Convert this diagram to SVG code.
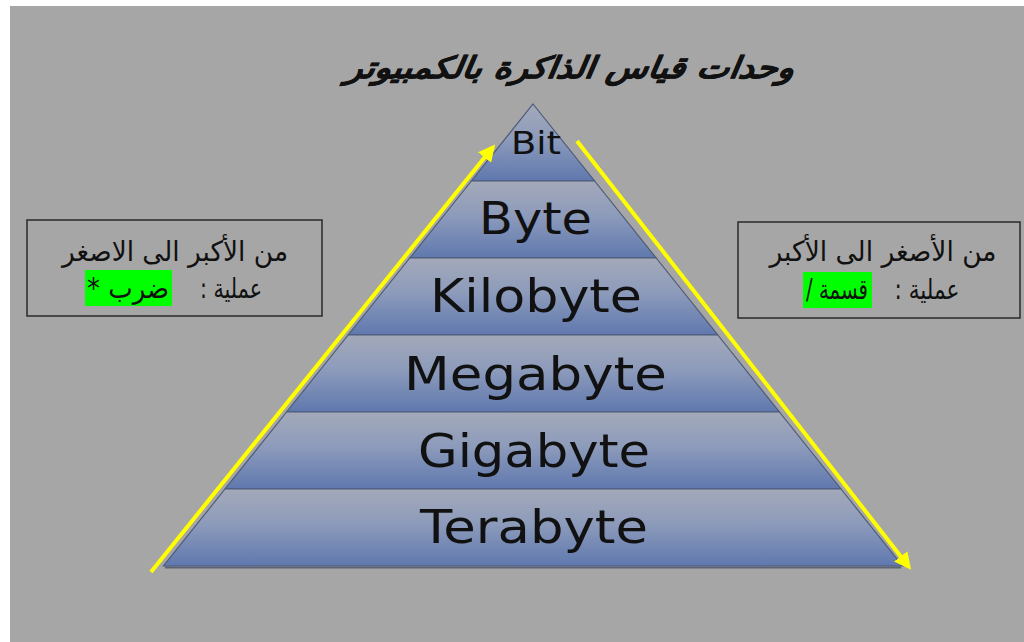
<svg xmlns="http://www.w3.org/2000/svg" width="1024" height="642" viewBox="0 0 1024 642">
  <defs>
    <linearGradient id="layerFill" x1="0" y1="0" x2="0" y2="1">
      <stop offset="0" stop-color="#a3a9b9"/>
      <stop offset="0.45" stop-color="#8d9bbb"/>
      <stop offset="1" stop-color="#5f78ae"/>
    </linearGradient>
    <marker id="arrowHead" viewBox="0 0 10 10" refX="8" refY="5" markerWidth="4.2" markerHeight="4.2" orient="auto" markerUnits="strokeWidth">
      <path d="M0,0 L10,5 L0,10 z" fill="#ffff00"/>
    </marker>
    <style>
      .layer { fill: url(#layerFill); stroke: #4d5b78; stroke-width: 1.2; }
      .unit { font-family: "DejaVu Sans", "Open Sans", sans-serif; fill: #111111; text-anchor: middle; }
      .ar { font-family: "DejaVu Sans", "Noto Sans", sans-serif; fill: #111111; text-anchor: middle; font-size: 28px; }
      .box { fill: none; stroke: #2a2a2a; stroke-width: 1.5; }
      .mark { fill: #00ff00; }
      .arrow { stroke: #ffff00; stroke-width: 4; fill: none; marker-end: url(#arrowHead); }
    </style>
  </defs>

  <!-- page background -->
  <rect x="0" y="0" width="1024" height="642" fill="#ffffff"/>
  <rect x="10" y="6" width="1014" height="636" fill="#a6a6a6"/>

  <!-- title -->
  <text x="569" y="78" direction="rtl" font-family="DejaVu Sans, sans-serif" font-weight="bold" font-style="italic" font-size="30" text-anchor="middle" fill="#111111" stroke="#111111" stroke-width="0.6" textLength="448" lengthAdjust="spacingAndGlyphs" transform="skewX(-8) translate(11,0)">وحدات قياس الذاكرة بالكمبيوتر</text>

  <!-- pyramid layers -->
  <g id="layer-bit">
    <polygon class="layer" points="533,104 594.6,181 471.4,181"/>
    <text class="unit" x="536" y="154" font-size="32" textLength="50" lengthAdjust="spacingAndGlyphs">Bit</text>
  </g>
  <g id="layer-byte">
    <polygon class="layer" points="471.4,181 594.6,181 656.2,258 409.8,258"/>
    <text class="unit" x="535.5" y="234" font-size="44" textLength="113" lengthAdjust="spacingAndGlyphs">Byte</text>
  </g>
  <g id="layer-kilobyte">
    <polygon class="layer" points="409.8,258 656.2,258 717.8,335 348.2,335"/>
    <text class="unit" x="536" y="312" font-size="46" textLength="212" lengthAdjust="spacingAndGlyphs">Kilobyte</text>
  </g>
  <g id="layer-megabyte">
    <polygon class="layer" points="348.2,335 717.8,335 779.4,412 286.6,412"/>
    <text class="unit" x="535.5" y="390" font-size="46" textLength="263" lengthAdjust="spacingAndGlyphs">Megabyte</text>
  </g>
  <g id="layer-gigabyte">
    <polygon class="layer" points="286.6,412 779.4,412 841,489 225,489"/>
    <text class="unit" x="534" y="467" font-size="46" textLength="232" lengthAdjust="spacingAndGlyphs">Gigabyte</text>
  </g>
  <g id="layer-terabyte">
    <polygon class="layer" points="225,489 841,489 902.6,566 163.4,566"/>
    <line x1="165" y1="567.5" x2="901" y2="567.5" stroke="#5a6275" stroke-width="2"/>
    <text class="unit" x="534" y="543" font-size="46" textLength="228" lengthAdjust="spacingAndGlyphs">Terabyte</text>
  </g>

  <!-- left note box -->
  <g id="note-left">
    <rect class="box" x="27" y="220" width="295" height="96"/>
    <text class="ar" x="175" y="261" direction="rtl" textLength="226" lengthAdjust="spacingAndGlyphs">من الأكبر الى الاصغر</text>
    <rect class="mark" x="85" y="270" width="87" height="36"/>
    <text class="ar" x="231" y="298" direction="rtl" textLength="62" lengthAdjust="spacingAndGlyphs">عملية :</text>
    <text class="ar" x="128" y="298" direction="rtl" textLength="82" lengthAdjust="spacingAndGlyphs">ضرب *</text>
  </g>

  <!-- right note box -->
  <g id="note-right">
    <rect class="box" x="738" y="222" width="282" height="96"/>
    <text class="ar" x="883" y="261" direction="rtl" textLength="227" lengthAdjust="spacingAndGlyphs">من الأصغر الى الأكبر</text>
    <rect class="mark" x="803" y="272" width="69" height="36"/>
    <text class="ar" x="927" y="299" direction="rtl" textLength="65" lengthAdjust="spacingAndGlyphs">عملية :</text>
    <text class="ar" x="837" y="299" direction="rtl" textLength="62" lengthAdjust="spacingAndGlyphs">قسمة /</text>
  </g>

  <!-- direction arrows -->
  <g id="connectors">
    <line class="arrow" x1="151" y1="572" x2="493" y2="147"/>
    <line class="arrow" x1="577" y1="141" x2="909" y2="567"/>
  </g>
</svg>
